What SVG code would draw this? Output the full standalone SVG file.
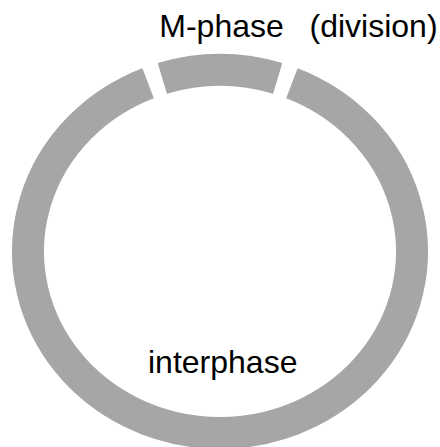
<svg xmlns="http://www.w3.org/2000/svg" width="440" height="447" viewBox="0 0 440 447">
<style>
.arc{fill:none;stroke:#a6a6a6;stroke-width:32;stroke-linecap:butt}
.lbl{font-family:"Liberation Sans",Arial,sans-serif;font-size:32px;fill:#000}
</style>
<rect width="440" height="447" fill="#fff"/>
<g id="interphase">
<path class="arc" d="M291.9,83.2 A192,181.5 0 1 1 148.1,83.2"/>
<text class="lbl" x="148" y="373">interphase</text>
</g>
<g id="mphase">
<path class="arc" d="M162.3,78.4 A192,181.5 0 0 1 277.7,78.4"/>
<text class="lbl" x="159.3" y="37">M-phase</text>
<text class="lbl" x="309.5" y="37">(division)</text>
</g>
<g id="connectors"/>
</svg>
